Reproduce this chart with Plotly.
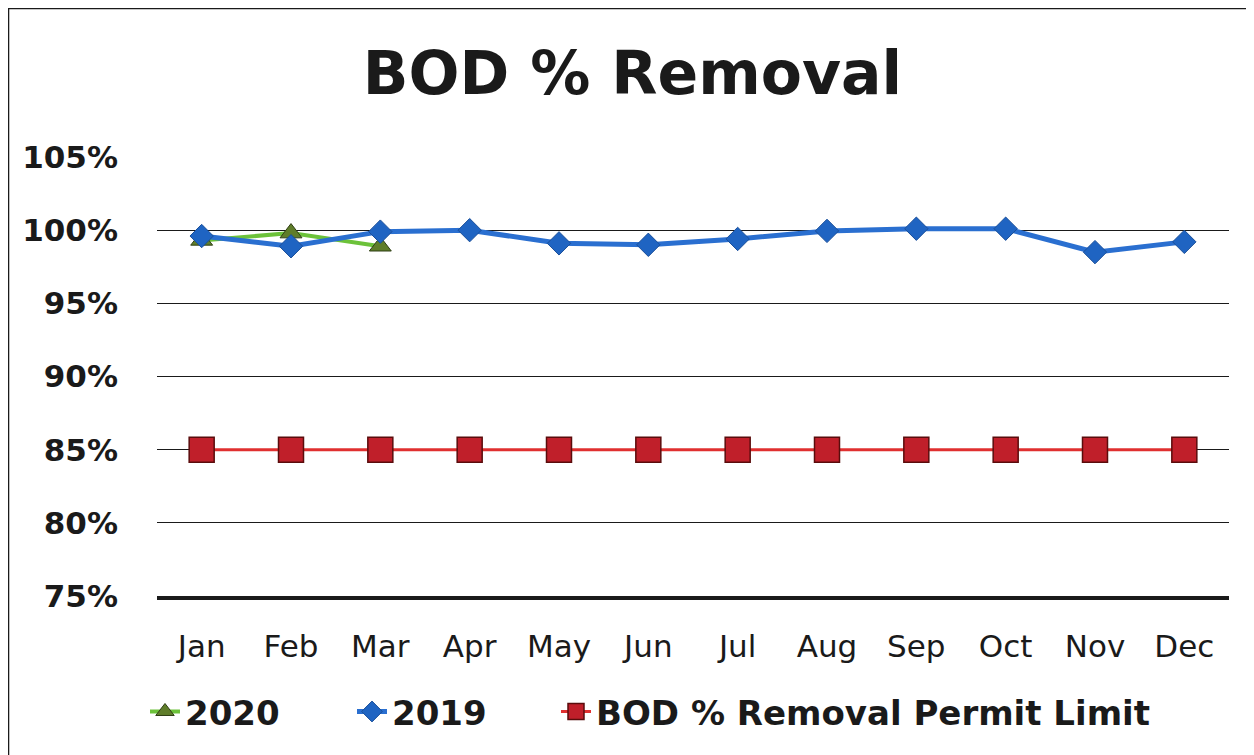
import plotly.graph_objects as go

months = ["Jan", "Feb", "Mar", "Apr", "May", "Jun", "Jul", "Aug", "Sep", "Oct", "Nov", "Dec"]
y2020 = [99.3, 99.8, 98.9]
y2019 = [99.6, 98.9, 99.9, 100.0, 99.1, 99.0, 99.4, 99.95, 100.1, 100.1, 98.5, 99.2]
permit = [85, 85, 85, 85, 85, 85, 85, 85, 85, 85, 85, 85]
ytick_vals = [75, 80, 85, 90, 95, 100, 105]
ytick_text = ["75%", "80%", "85%", "90%", "95%", "100%", "105%"]

FONT = "DejaVu Sans, Arial, sans-serif"

fig = go.Figure()
fig.add_trace(go.Scatter(
    x=months[:len(y2020)], y=y2020, name="2020", mode="lines+markers", legend="legend",
    line=dict(color="#6cc23a", width=4),
    marker=dict(symbol="triangle-up", size=19, color="#5f7d2a", line=dict(color="#2f3f14", width=1)),
))
fig.add_trace(go.Scatter(
    x=months, y=y2019, name="2019", mode="lines+markers", legend="legend2",
    line=dict(color="#2a6fd0", width=5),
    marker=dict(symbol="diamond", size=18, color="#1f64c2", line=dict(color="#1a4f9a", width=1)),
))
fig.add_trace(go.Scatter(
    x=months, y=permit, name="BOD % Removal Permit Limit", mode="lines+markers", legend="legend3",
    line=dict(color="#e03030", width=3),
    marker=dict(symbol="square", size=25, color="#c01f2a", line=dict(color="#5a0c0c", width=1.5)),
))

leg_font = dict(size=34, color="#1a1a1a", family=FONT, weight="bold")
common_leg = dict(orientation="h", xanchor="left", y=-0.264, yanchor="middle",
                  font=leg_font, bgcolor="rgba(0,0,0,0)")

fig.update_layout(
    width=1254, height=755,
    paper_bgcolor="white", plot_bgcolor="white",
    margin=dict(l=149, r=33, t=149, b=167),
    title=dict(text="<b>BOD % Removal</b>", x=0.498, xanchor="center", y=0.914, yanchor="middle",
               font=dict(family=FONT, size=60, color="#1a1a1a")),
    font=dict(family=FONT, color="#1a1a1a"),
    showlegend=True,
    legend=dict(x=-0.0112, **common_leg),
    legend2=dict(x=0.1819, **common_leg),
    legend3=dict(x=0.3722, **common_leg),
    xaxis=dict(
        type="category", showgrid=False, showline=True, linecolor="#1a1a1a", linewidth=4,
        ticks="", tickfont=dict(size=31, family=FONT), ticklabelstandoff=20,
        range=[-0.5, 11.5],
    ),
    yaxis=dict(
        range=[75, 105], tickvals=ytick_vals, ticktext=ytick_text,
        showgrid=True, gridcolor="#1a1a1a", gridwidth=1.3, zeroline=False,
        showline=False, ticks="", ticklabelstandoff=38,
        tickfont=dict(size=31, family=FONT, weight="bold"),
    ),
    shapes=[dict(type="rect", xref="paper", yref="paper", x0=-0.1385, x1=1.0177, y0=-0.5, y1=1.338,
                 line=dict(color="#1a1a1a", width=1.5), fillcolor="rgba(0,0,0,0)", layer="below")],
)

fig.write_html("out.html")
